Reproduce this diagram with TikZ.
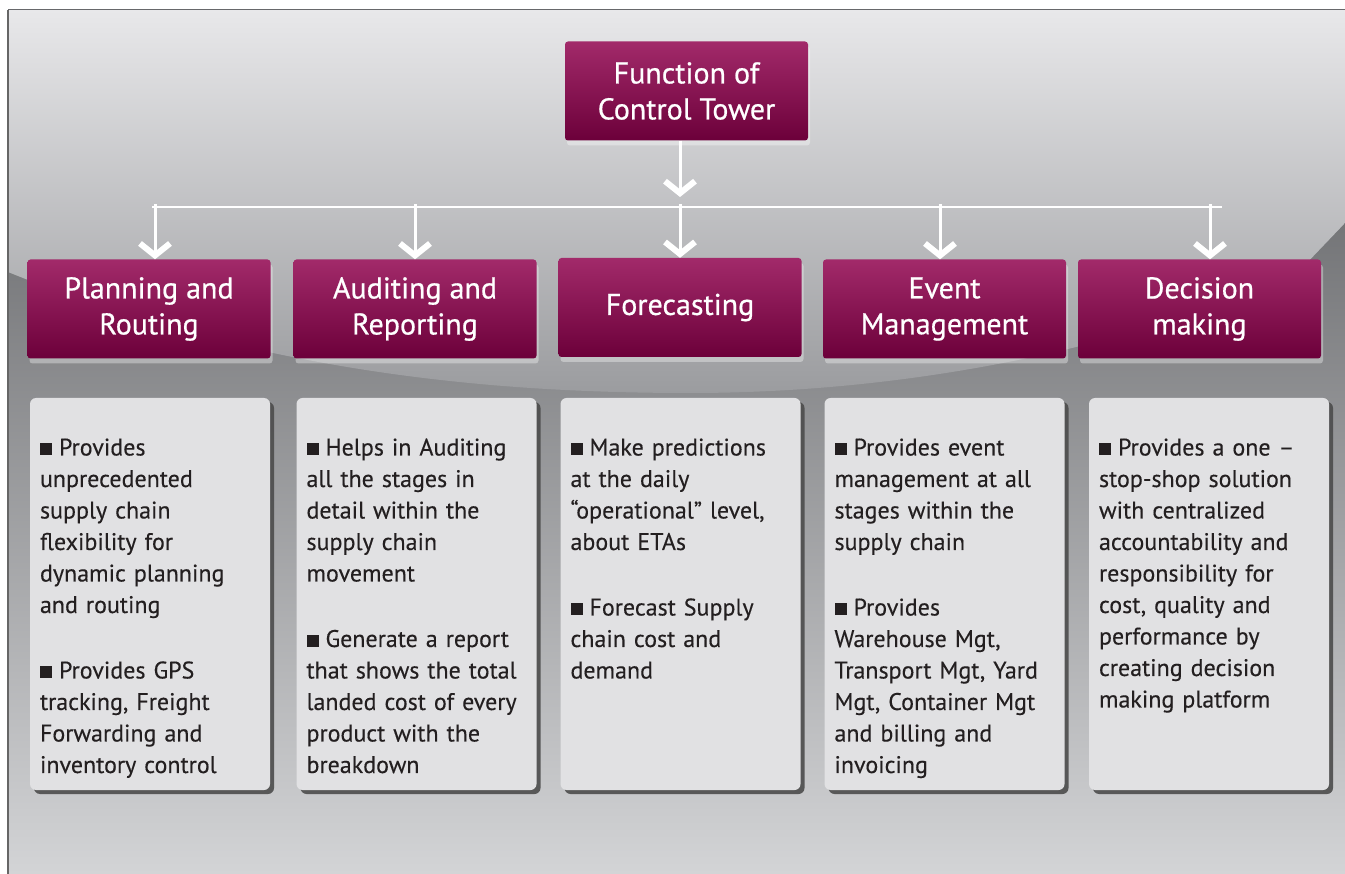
\documentclass[tikz,border=0pt]{standalone}
\usepackage{fontspec}
\setmainfont[FakeBold=0.25]{PT Sans}
\newfontfamily\hdrfont[FakeBold=0.6]{PT Sans}
\usetikzlibrary{arrows.meta,shadows}
\definecolor{magtop}{RGB}{162,42,106}
\definecolor{magbot}{RGB}{108,0,58}
\definecolor{boxgray}{RGB}{225,225,227}
\definecolor{ink}{RGB}{35,31,32}
\newcommand\itm{\par\hangindent=19pt\hangafter=1\noindent\makebox[19pt][l]{\rule{12pt}{12pt}}}
\newcommand\gap{\par\vspace{34pt}}
\begin{document}
\begin{tikzpicture}[x=1pt,y=-1pt]
\tikzset{hdr/.style={rectangle,rounded corners=3pt,top color=magtop,bottom color=magbot,text=white,minimum width=243pt,minimum height=99pt,align=center,font=\hdrfont\fontsize{30}{36}\selectfont,drop shadow={shadow xshift=2pt,shadow yshift=-5pt,fill=white,opacity=0.35}},
bx/.style={rectangle,rounded corners=6pt,fill=boxgray,minimum width=240pt,minimum height=392pt,drop shadow={shadow xshift=4pt,shadow yshift=-4pt,fill=black!70,opacity=0.9}},
txt/.style={anchor=north west,text width=228pt,align=left,inner sep=0pt,text=ink,font=\fontsize{24}{31.5}\selectfont},
arr/.style={draw=white,line width=3pt,-{Straight Barb[length=12pt,width=30pt,line width=6pt]}}}
% background panel
\useasboundingbox (0,0) rectangle (1345,874);
\fill[white] (0,0) rectangle (1345,874);
\shade[top color={rgb,255:red,85;green,86;blue,89},bottom color={rgb,255:red,211;green,212;blue,214}] (8,10) rectangle (1345,874);
\shade[top color={rgb,255:red,232;green,232;blue,234},bottom color={rgb,255:red,155;green,156;blue,159}] (8,10) -- (8,272) .. controls (250,370) and (480,393) .. (690,393) .. controls (950,393) and (1180,330) .. (1303,267) -- (1345,223) -- (1345,10) -- cycle;
\draw[gray!80!black,line width=1.2pt] (8,10) -- (8,874);
% top and headers
\node (top) at (686.5,91) [hdr] {Function of\\Control Tower};
\node (h1) at (149,309) [hdr] {Planning and\\Routing};
\node (h2) at (415,309) [hdr] {Auditing and\\Reporting};
\node (h3) at (680,307.5) [hdr] {Forecasting};
\node (h4) at (944.5,309) [hdr] {Event\\Management};
\node (h5) at (1199.5,309) [hdr] {Decision\\making};
% connectors
\coordinate (c0) at (680,197);
\coordinate (bl) at (152,207);
\coordinate (br) at (1222,207);
\coordinate (a1) at (155,204);
\coordinate (a2) at (415,204);
\coordinate (a3) at (680,204);
\coordinate (a4) at (940,204);
\coordinate (a5) at (1210,204);
\draw[arr] (top.south -| c0) -- (c0);
\draw[white,line width=2pt] (bl) -- (br);
\foreach \i in {1,...,5}
  \draw[arr] (a\i) -- (a\i |- h\i.north);
% body boxes
\node (b1) at (150,594) [bx] {};
\node (b2) at (416.5,594) [bx] {};
\node (b3) at (680.5,594) [bx] {};
\node (b4) at (944.5,594) [bx] {};
\node (b5) at (1209,594) [bx] {};
\node (t1) at (b1.north west) [txt,xshift=10pt,yshift=-26pt] {\itm Provides\\unprecedented\\supply chain\\flexibility for\\dynamic planning\\and routing\gap
\itm Provides GPS\\tracking, Freight\\Forwarding and\\inventory control};
\node (t2) at (b2.north west) [txt,xshift=10pt,yshift=-26pt] {\itm Helps in Auditing\\all the stages in\\detail within the\\supply chain\\movement\gap
\itm Generate a report\\that shows the total\\landed cost of every\\product with the\\breakdown};
\node (t3) at (b3.north west) [txt,xshift=10pt,yshift=-26pt] {\itm Make predictions\\at the daily\\“operational” level,\\about ETAs\gap
\itm Forecast Supply\\chain cost and\\demand};
\node (t4) at (b4.north west) [txt,xshift=10pt,yshift=-26pt] {\itm Provides event\\management at all\\stages within the\\supply chain\gap
\itm Provides\\Warehouse Mgt,\\Transport Mgt, Yard\\Mgt, Container Mgt\\and billing and\\invoicing};
\node (t5) at (b5.north west) [txt,xshift=10pt,yshift=-26pt] {\itm Provides a one –\\stop-shop solution\\with centralized\\accountability and\\responsibility for\\cost, quality and\\performance by\\creating decision\\making platform};
\end{tikzpicture}
\end{document}
